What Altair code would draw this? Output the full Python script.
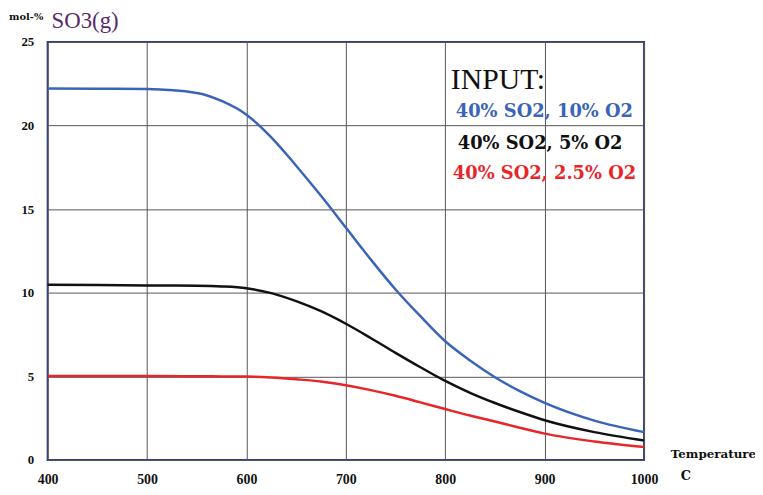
import altair as alt
import pandas as pd

temps = [400, 450, 500, 550, 575, 600, 625, 650, 675, 700, 725, 750, 775, 800, 825, 850, 875, 900, 950, 1000]
so3_10 = [22.22, 22.20, 22.18, 21.95, 21.47, 20.65, 19.30, 17.60, 15.80, 13.90, 12.00, 10.20, 8.60, 7.10, 5.95, 4.95, 4.12, 3.42, 2.36, 1.67]
so3_5 = [10.48, 10.46, 10.44, 10.42, 10.38, 10.27, 9.98, 9.50, 8.90, 8.15, 7.30, 6.41, 5.55, 4.73, 4.02, 3.41, 2.87, 2.38, 1.67, 1.17]
so3_25 = [5.03, 5.03, 5.02, 5.01, 5.00, 4.99, 4.93, 4.83, 4.70, 4.47, 4.18, 3.84, 3.45, 3.05, 2.66, 2.30, 1.93, 1.58, 1.11, 0.78]
series = ["40% SO2, 10% O2", "40% SO2, 5% O2", "40% SO2, 2.5% O2"]
colors = ["#3a64b8", "#111111", "#e8262a"]

rows = []
for name, vals in zip(series, [so3_10, so3_5, so3_25]):
    for t, v in zip(temps, vals):
        rows.append({"T": t, "SO3": v, "series": name})
df = pd.DataFrame(rows)

W, H = 602, 422
serif = "Liberation Serif"
wide = "DejaVu Serif"

lines = alt.Chart(df).mark_line(strokeWidth=2.5, interpolate="monotone").encode(
    x=alt.X("T:Q", scale=alt.Scale(domain=[400, 1000], nice=False),
            axis=alt.Axis(values=[400, 500, 600, 700, 800, 900, 1000], title=None, format="d",
                          labelFont=serif, labelFontSize=14, labelFontWeight="bold",
                          labelColor="#111", labelPadding=13, ticks=False, domain=False,
                          gridColor="#555", gridWidth=1, labelFlush=False)),
    y=alt.Y("SO3:Q", scale=alt.Scale(domain=[0, 25], nice=False),
            axis=alt.Axis(values=[0, 5, 10, 15, 20, 25], title=None,
                          labelFont=serif, labelFontSize=13, labelFontWeight="bold",
                          labelColor="#111", labelPadding=14, ticks=False, domain=False,
                          gridColor="#555", gridWidth=1)),
    color=alt.Color("series:N", scale=alt.Scale(domain=series, range=colors), legend=None),
)

def label(text, x, y, size, color="#111", weight="bold", font=serif):
    return alt.Chart(pd.DataFrame({"t": [text]})).mark_text(
        font=font, fontSize=size, fontWeight=weight, color=color, align="left", baseline="alphabetic"
    ).encode(text="t:N", x=alt.value(x), y=alt.value(y))

texts = [
    label("mol-%", -39, -22, 10, font=wide),
    label("SO3(g)", 4, -14, 23, color="#5a2868", weight="normal"),
    label("Temperature", 629, 420, 12, font=wide),
    label("C", 639, 442, 13, font=wide),
    label("INPUT:", 407, 47, 30, weight="normal"),
    label(series[0], 412, 76, 18, color=colors[0], font=wide),
    label(series[1], 414, 108, 18, color=colors[1], font=wide),
    label(series[2], 409, 138, 18, color=colors[2], font=wide),
]

chart = alt.layer(lines, *texts).properties(
    width=W, height=H,
    autosize=alt.AutoSizeParams(type="none"),
    padding={"left": 40, "top": 32, "right": 112, "bottom": 30},
    background="white",
).configure_view(stroke="#2b3f8c", strokeWidth=2)

chart.save("out.html", embed_options={"renderer": "svg", "actions": False})
